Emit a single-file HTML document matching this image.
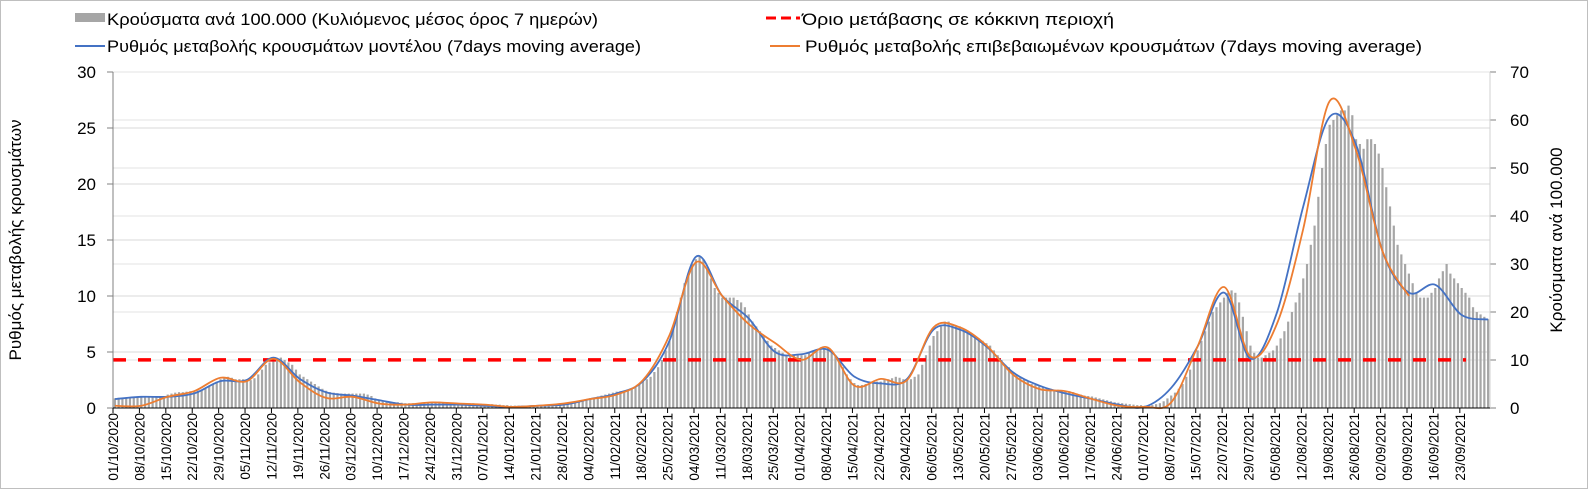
<!DOCTYPE html>
<html><head><meta charset="utf-8"><style>
html,body{margin:0;padding:0;background:#fff}
svg{display:block;font-family:"Liberation Sans",sans-serif}
</style></head><body>
<svg id="chart" width="1588" height="489" viewBox="0 0 1588 489" xmlns="http://www.w3.org/2000/svg">
<rect x="0.5" y="0.5" width="1587" height="488" fill="#fff" stroke="#bfbfbf"/>
<g>
  <g>
    <rect x="75" y="13" width="30" height="9" fill="#a6a6a6"/>
    <text x="107" y="25" font-size="17" textLength="491" lengthAdjust="spacingAndGlyphs" fill="#000">Κρούσματα ανά 100.000 (Κυλιόμενος μέσος όρος 7 ημερών)</text>
  </g>
  <g>
    <line x1="766" y1="18" x2="800" y2="18" stroke="#ff0000" stroke-width="3" stroke-dasharray="10,5"/>
    <text x="802" y="25" font-size="17" textLength="312" lengthAdjust="spacingAndGlyphs" fill="#000">Όριο μετάβασης σε κόκκινη περιοχή</text>
  </g>
  <g>
    <line x1="75" y1="46" x2="105" y2="46" stroke="#4472c4" stroke-width="2"/>
    <text x="107" y="52" font-size="17" textLength="534" lengthAdjust="spacingAndGlyphs" fill="#000">Ρυθμός μεταβολής κρουσμάτων μοντέλου (7days moving average)</text>
  </g>
  <g>
    <line x1="770" y1="46" x2="800" y2="46" stroke="#ed7d31" stroke-width="2"/>
    <text x="805" y="52" font-size="17" textLength="617" lengthAdjust="spacingAndGlyphs" fill="#000">Ρυθμός μεταβολής επιβεβαιωμένων κρουσμάτων (7days moving average)</text>
  </g>
</g>
<text transform="translate(21,240) rotate(-90)" text-anchor="middle" font-size="17">Ρυθμός μεταβολής κρουσμάτων</text>
<text transform="translate(1562,240) rotate(-90)" text-anchor="middle" font-size="17">Κρούσματα ανά 100.000</text>
<g id="grid"></g><g id="bars"></g><g id="lines"></g><g id="axes"></g>
</svg>
<script>
const bars = [
2.0,2.1,2.1,2.2,2.2,2.2,2.2,
2.2,2.2,2.3,2.3,2.4,2.4,2.5,
2.8,3.0,3.2,3.3,3.3,3.4,3.5,
3.5,3.6,3.8,4.0,4.5,5.0,5.5,
6.0,6.3,6.5,6.3,6.0,6.0,6.0,
6.0,5.8,6.2,7.0,8.0,9.0,9.5,
10,10.2,10.5,10,9.5,9,8,
7,6.5,6,5.5,5,4.5,4,
3.6,3.3,3.2,3.1,3,3,3,
3,3,3,3,2.8,2.5,2,
1.6,1.4,1.3,1.2,1.2,1.2,1.1,
1,1,1,1,1,1.1,1.2,
1.2,1.3,1.3,1.2,1.2,1.1,1.1,
1,1,1,1,1,0.9,0.9,
0.8,0.8,0.8,0.7,0.7,0.6,0.6,
0.5,0.5,0.5,0.5,0.5,0.5,0.5,
0.6,0.6,0.6,0.7,0.8,0.8,0.9,
1,1,1.1,1.2,1.3,1.5,1.7,
2,2.2,2.4,2.6,2.8,3,3.2,
3.4,3.5,3.6,3.8,4,4.4,5,
5.5,6,6.5,7.5,8.5,10,12,
14,17,20,23,26,28,30,
31,31.5,31,29,27,25,24,
23,23,23,23,22.5,22,21,
19.5,18,17,16,15,14,13,
12.5,12,11.5,11,11,11,11,
11,11,11.5,12,12,12.5,12.5,
12.5,12,11,10,8.5,7,6,
5.2,4.8,4.8,5,5,5.2,5.5,
5.5,6,6,6.2,6.5,6.3,6,
6,6,6.5,7,9,11,13,
15,16,17,18,18,17.5,17,
17,16.5,16,15.5,15,14.5,14,
13.5,13,12,11,10,9,8.5,
7.5,7,6.5,6,5.5,5,4.8,
4.5,4.3,4.2,4,3.8,3.8,3.6,
3.5,3.5,3.3,3,2.8,2.6,2.5,
2.4,2.2,2,1.8,1.6,1.4,1.2,
1.1,1,0.9,0.8,0.7,0.6,0.6,
0.5,0.5,0.6,0.8,1,1.4,2,
2.6,3.2,4,5,6.5,8,10,
12,14,16,18,20,21,22,
23,24,24.5,24,22,19,16,
13,11.5,10.5,10.5,11,11.5,12,
13,14.5,16,18,20,22,24,
27,30,34,38,44,50,55,
59,60,61,62,62,63,61,
56,55,54,56,56,55,53,
50,46,42,38,34,32,30,
28,26,24,23,23,23,24,
25,27,28.5,30,28,27,26,
25,24,23,21,20,19.5,19,
18.5];
const modelWeekly = [0.8,1.0,1.0,1.3,2.4,2.5,4.5,2.6,1.4,1.1,0.7,0.3,0.3,0.3,0.2,0.1,0.2,0.3,0.8,1.3,2.4,6,13.5,10,8,5,4.8,5.2,2.8,2.2,2.6,7,7,5.5,3.2,2,1.3,0.8,0.3,0.1,1.8,5.5,10.3,4.4,8.5,18,26,23.5,14,10.3,11,8.3,7.9];
const confirmedWeekly = [0.2,0.2,1.0,1.5,2.7,2.4,4.4,2.3,0.9,1.0,0.4,0.3,0.5,0.4,0.3,0.1,0.2,0.4,0.8,1.2,2.5,6.5,13,10,7.5,5.8,4.3,5.4,2.0,2.6,2.5,7.2,7.2,5.6,3,1.7,1.5,0.8,0.2,0.1,0.5,5.5,10.8,4.6,7.5,16,27.4,23,14,10,null,null,null];
const threshold = 4.3;
const leftTicks = [0,5,10,15,20,25,30];
const rightTicks = [0,10,20,30,40,50,60,70];
const tickLabels = ["01/10/2020","08/10/2020","15/10/2020","22/10/2020","29/10/2020","05/11/2020","12/11/2020","19/11/2020","26/11/2020","03/12/2020","10/12/2020","17/12/2020","24/12/2020","31/12/2020","07/01/2021","14/01/2021","21/01/2021","28/01/2021","04/02/2021","11/02/2021","18/02/2021","25/02/2021","04/03/2021","11/03/2021","18/03/2021","25/03/2021","01/04/2021","08/04/2021","15/04/2021","22/04/2021","29/04/2021","06/05/2021","13/05/2021","20/05/2021","27/05/2021","03/06/2021","10/06/2021","17/06/2021","24/06/2021","01/07/2021","08/07/2021","15/07/2021","22/07/2021","29/07/2021","05/08/2021","12/08/2021","19/08/2021","26/08/2021","02/09/2021","09/09/2021","16/09/2021","23/09/2021"];

const NS="http://www.w3.org/2000/svg";
const X0=113, X1=1490, Y0=408, YT=72;
const nDays = bars.length;
const dayW=(X1-X0)/nDays;
const xDay=d=>X0+(d+0.5)*dayW;
const xEdge=d=>X0+d*dayW;
const yL=v=>Y0-(v/30)*(Y0-YT);
const yR=v=>Y0-(v/70)*(Y0-YT);
function mk(tag,attrs,parent){const e=document.createElementNS(NS,tag);for(const k in attrs)e.setAttribute(k,attrs[k]);parent.appendChild(e);return e;}
const grid=document.getElementById('grid'),gb=document.getElementById('bars'),gl=document.getElementById('lines'),ga=document.getElementById('axes');

leftTicks.forEach(t=>{
  if(t>0){const g=mk('line',{x1:X0,x2:X1,y1:yL(t),y2:yL(t),stroke:'#d9d9d9','stroke-width':1},grid);
  
  }
  mk('line',{x1:X0-6,x2:X0,y1:yL(t),y2:yL(t),stroke:'#808080'},ga);
  const tx=mk('text',{x:X0-17,y:yL(t)+6,'text-anchor':'end','font-size':17},ga);
  tx.textContent=t;
  
  
});
rightTicks.forEach(t=>{
  const g=mk('line',{x1:X0,x2:X1,y1:yR(t),y2:yR(t),stroke:'#e3e3e3','stroke-width':1},grid);
  
  
  mk('line',{x1:X1,x2:X1+6,y1:yR(t),y2:yR(t),stroke:'#808080'},ga);
  const tx=mk('text',{x:X1+20,y:yR(t)+6,'font-size':17},ga);
  tx.textContent=t;
  
  
});

bars.forEach((v,i)=>{
  const r=mk('rect',{x:xDay(i)-1.1,y:yR(v),width:2.2,height:Y0-yR(v),fill:'#a6a6a6'},gb);
  
  
});

const th=mk('line',{x1:X0,x2:1466,y1:yL(threshold),y2:yL(threshold),stroke:'#ff0000','stroke-width':3.5,'stroke-dasharray':'13,12'},gl);



function smoothPath(pts){
  let d='M'+pts[0][0]+','+pts[0][1];
  for(let i=0;i<pts.length-1;i++){
    const p0=pts[Math.max(0,i-1)],p1=pts[i],p2=pts[i+1],p3=pts[Math.min(pts.length-1,i+2)];
    const c1=[p1[0]+(p2[0]-p0[0])/6,p1[1]+(p2[1]-p0[1])/6];
    const c2=[p2[0]-(p3[0]-p1[0])/6,p2[1]-(p3[1]-p1[1])/6];
    d+=' C'+c1+' '+c2+' '+p2;
  }
  return d;
}
function weeklyPts(arr){
  const pts=[];
  arr.forEach((v,w)=>{if(v===null)return;const d=Math.min(w*7,nDays-1);pts.push([xDay(d),yL(v)]);});
  return pts;
}
const mp=mk('path',{d:smoothPath(weeklyPts(modelWeekly)),fill:'none',stroke:'#4472c4','stroke-width':1.8},gl);


const cp=mk('path',{d:smoothPath(weeklyPts(confirmedWeekly)),fill:'none',stroke:'#ed7d31','stroke-width':1.8},gl);



mk('line',{x1:X0,x2:X0,y1:YT,y2:Y0,stroke:'#808080'},ga);
mk('line',{x1:X1,x2:X1,y1:YT,y2:Y0,stroke:'#d0d0d0'},ga);
mk('line',{x1:X0,x2:X1,y1:Y0,y2:Y0,stroke:'#000'},ga);
tickLabels.forEach((lab,w)=>{
  const x=xEdge(w*7);
  mk('line',{x1:x,x2:x,y1:Y0,y2:Y0+5,stroke:'#000'},ga);
  const t=mk('text',{transform:'translate('+(x+5)+','+(Y0+5)+') rotate(-90)','text-anchor':'end','font-size':13.5},ga);
  t.textContent=lab;
  
  
});
</script>
</body></html>
